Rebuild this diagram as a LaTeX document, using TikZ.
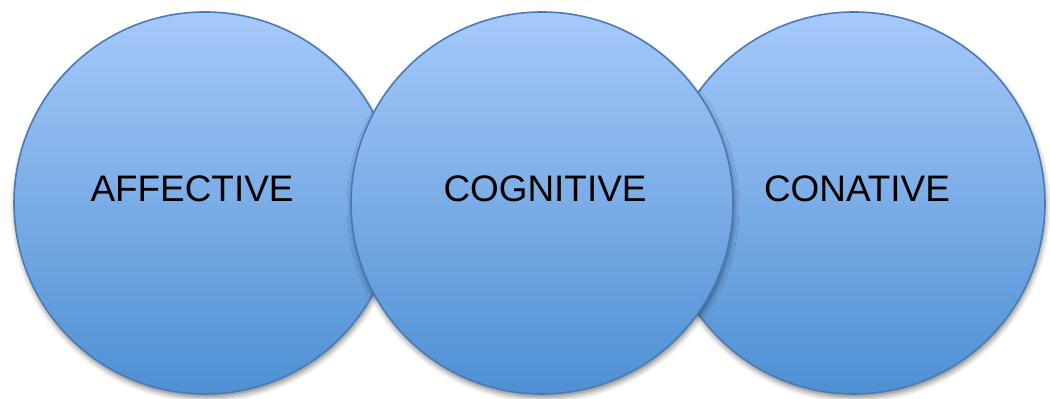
\documentclass[tikz,border=0pt]{standalone}
\usepackage{fontspec}
\setmainfont{Liberation Sans}
\usepackage{tikz}
\usetikzlibrary{shadows.blur}

\definecolor{circtop}{RGB}{166,201,250}
\definecolor{circbot}{RGB}{78,144,211}
\definecolor{circline}{RGB}{74,122,180}

\begin{document}
\begin{tikzpicture}[every node/.style={outer sep=0pt},
    circ/.style={circle, minimum size=3.82cm, inner sep=0pt, draw=circline, line width=0.45pt,
      top color=circtop, bottom color=circbot,
      blur shadow={shadow xshift=0.01cm, shadow yshift=-0.04cm, shadow blur radius=0.05cm, shadow opacity=45}},
    lbl/.style={font=\fontsize{10.5pt}{12pt}\selectfont, inner sep=0pt}]
      \useasboundingbox (0,0) rectangle (10.5,3.99);
      \node[circ] (aff) at (2.05,1.96) {};
      \node[circ] (con) at (8.54,1.96) {};
      \node[circ] (cog) at (5.42,1.96) {};
      \node[lbl] (afftext) at (1.92,2.10) {AFFECTIVE};
      \node[lbl] (cogtext) at (5.45,2.10) {COGNITIVE};
      \node[lbl] (context) at (8.57,2.10) {CONATIVE};
    \end{tikzpicture}
\end{document}
